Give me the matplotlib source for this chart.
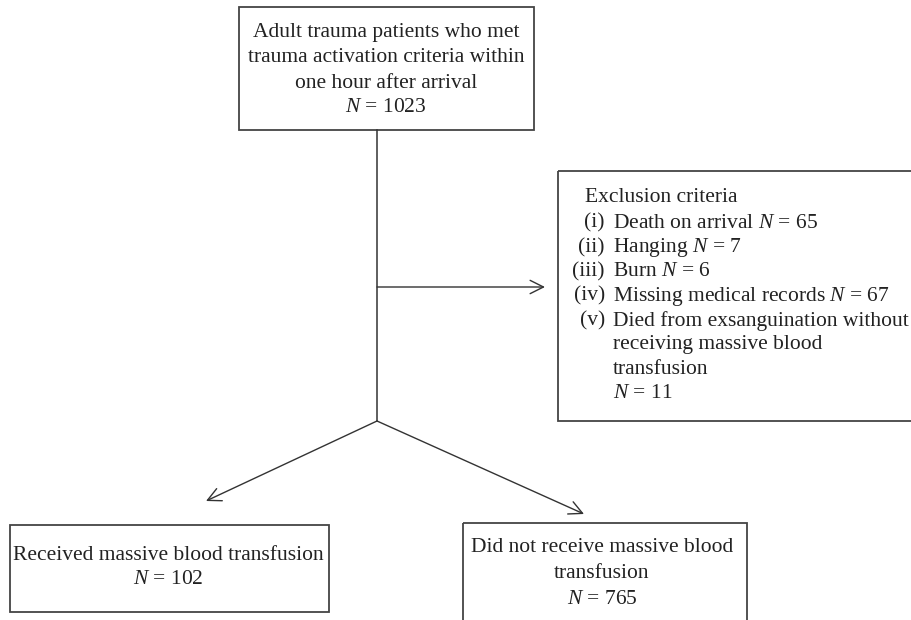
import matplotlib.pyplot as plt
from matplotlib.patches import Rectangle

plt.rcParams['font.family'] = 'Liberation Serif'
plt.rcParams['mathtext.fontset'] = 'custom'
plt.rcParams['mathtext.rm'] = 'Liberation Serif'
plt.rcParams['mathtext.it'] = 'Liberation Serif:italic'

# flowchart content
top_lines = ['Adult trauma patients who met', 'trauma activation criteria within',
             'one hour after arrival']
n_total = 1023
excl_title = 'Exclusion criteria'
excl_labels = ['(i)', '(ii)', '(iii)', '(iv)', '(v)']
excl_items = ['Death on arrival', 'Hanging', 'Burn', 'Missing medical records',
              'Died from exsanguination without']
excl_n = [65, 7, 6, 67, 11]
excl_extra = ['receiving massive blood', 'transfusion']
left_lines = ['Received massive blood transfusion']
n_left = 102
right_lines = ['Did not receive massive blood', 'transfusion']
n_right = 765

fig = plt.figure(figsize=(9.12, 6.2), dpi=100)
ax = fig.add_axes([0, 0, 1, 1])
ax.set_xlim(0, 912)
ax.set_ylim(620, 0)
ax.axis('off')

ec = '#333333'
tc = '#222222'
fs = 15.5
lh = 24.4

def box(x0, y0, x1, y1):
    ax.add_patch(Rectangle((x0, y0), x1 - x0, y1 - y0, fill=False,
                           edgecolor='#444444', linewidth=1.3))

def arrow(p0, p1):
    ax.annotate('', xy=p1, xytext=p0,
                arrowprops=dict(arrowstyle='->', color=ec, lw=1.0,
                                mutation_scale=24, shrinkA=0, shrinkB=0))

# top box
box(239, 7, 534, 130)
lines = top_lines + ['$N$ = %d' % n_total]
for i, t in enumerate(lines):
    ax.text(386, 33 + i * 25, t, ha='center', va='center', fontsize=fs, color=tc)

# connectors
ax.plot([377, 377], [130, 421], color=ec, lw=1.1)
arrow((377, 287), (545, 287))
arrow((377, 421), (206, 501))
arrow((377, 421), (584, 514))

# exclusion box (right edge runs off the canvas)
box(558, 171, 918, 421)
ax.text(585, 198, excl_title, ha='left', va='center', fontsize=fs, color=tc)
y = 223
for lab, item, n in zip(excl_labels, excl_items, excl_n):
    ax.text(605, y, lab, ha='right', va='center', fontsize=fs, color=tc)
    if lab == '(v)':
        ax.text(613, y, item, ha='left', va='center', fontsize=fs, color=tc)
        for e in excl_extra:
            y += lh
            ax.text(613, y, e, ha='left', va='center', fontsize=fs, color=tc)
        y += lh
        ax.text(613, y, '$N$ = %d' % n, ha='left', va='center', fontsize=fs, color=tc)
    else:
        ax.text(613, y, '%s $N$ = %d' % (item, n), ha='left', va='center',
                fontsize=fs, color=tc)
    y += lh

# bottom boxes
box(10, 525, 329, 612)
for i, t in enumerate(left_lines + ['$N$ = %d' % n_left]):
    ax.text(168, 555 + i * 25, t, ha='center', va='center', fontsize=fs, color=tc)

box(463, 523, 747, 640)
for i, t in enumerate(right_lines + ['$N$ = %d' % n_right]):
    ax.text(602, 547 + i * 26, t, ha='center', va='center', fontsize=fs, color=tc)

fig.savefig('out.png', dpi=100)
